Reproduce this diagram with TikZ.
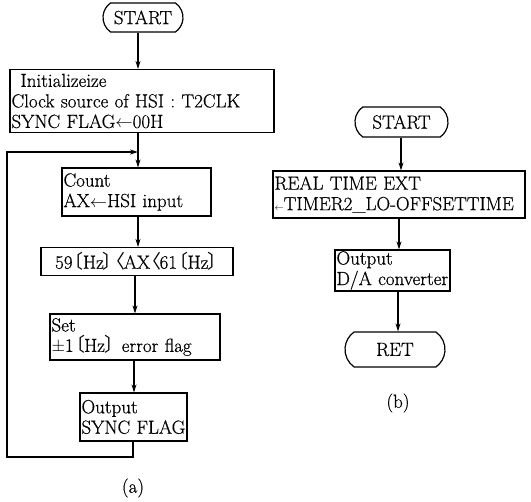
\documentclass[tikz,border=0pt]{standalone}
\usepackage{fontspec}
\setmainfont{Latin Modern Roman}[FakeBold=0.5]
\newfontfamily\cjk{Noto Sans CJK JP}
\usetikzlibrary{shapes.misc,arrows.meta}
\newcommand{\lbr}{\kern-0.4em{\cjk 〔}\kern-0.05em}
\newcommand{\rbr}{\kern-0.05em{\cjk 〕}\kern-0.4em}
\newcommand{\lang}{\kern-0.4em{\cjk 〈}\kern-0.1em}
\newcommand{\larr}{\ensuremath{\leftarrow}}
\tikzset{
  every node/.style={font=\fontsize{19}{20.5}\selectfont},
  box/.style={draw, line width=1.2pt, inner xsep=1.5pt, inner ysep=0pt, align=left},
  term/.style={draw, line width=1.2pt, rounded rectangle, rounded rectangle arc length=110, inner sep=0pt},
  flow/.style={line width=1.1pt, -{Stealth[length=8pt,width=5pt,inset=2.5pt]}},
}
\begin{document}
\begin{tikzpicture}[x=1pt,y=-1pt]
\useasboundingbox (0,0) rectangle (531,502);
% (a)
\node[term, minimum width=80pt, minimum height=29pt] (sa) at (143,17.5) {START};
\node[box, text width=261pt, minimum height=63pt] (init) at (142,101)
  {\hspace{9pt}\mbox{Initializeize}\\\mbox{Clock source of HSI : T2CLK}\\\mbox{SYNC FLAG\larr00H}};
\node[box, text width=146pt, minimum height=48pt] (count) at (136.5,192)
  {Count\\\mbox{AX\larr HSI input}};
\node[box, align=center, text width=189pt, minimum height=28pt] (range) at (137,261.5)
  {\mbox{59\lbr Hz\rbr\lang AX\lang 61\lbr Hz\rbr}};
\node[box, text width=167pt, minimum height=46pt] (set) at (135,337)
  {Set\\\mbox{$\pm$1\lbr Hz\rbr\ error flag}};
\node[box, text width=104pt, minimum height=48pt] (outa) at (133.5,417)
  {Output\\\mbox{SYNC FLAG}};
\node (la) at (133,488) {(a)};
\coordinate (ja) at (138,152);
\coordinate (lx) at (7,457);
\draw[flow] (sa.south -| ja) -- (init.north -| ja);
\draw[flow] (init.south -| ja) -- (count.north -| ja);
\draw[flow] (count.south -| ja) -- (range.north -| ja);
\coordinate (xb) at (135,0);
\draw[flow] (range.south -| xb) -- (set.north -| xb);
\coordinate (xc) at (134,0);
\draw[flow] (set.south -| xc) -- (outa.north -| xc);
\coordinate (xd) at (133,0);
\draw[flow] (outa.south -| xd) -- (xd |- lx) -- (lx) -- (lx |- ja) -- (ja);
% (b)
\node[term, minimum width=93pt, minimum height=30pt] (sb) at (401.5,122) {START};
\node[box, text width=249pt, minimum height=47pt] (rt) at (399,194.5)
  {\mbox{REAL TIME EXT}\\\mbox{{\small\larr}TIMER2\_LO-OFFSETTIME}};
\node[box, text width=112pt, minimum height=41pt] (outb) at (392.5,270.5)
  {Output\\\mbox{D/A converter}};
\node[term, minimum width=100pt, minimum height=35pt] (ret) at (395,349.5) {RET};
\node (lb) at (398,403) {(b)};
\coordinate (xe) at (401,0);
\draw[flow] (sb.south -| xe) -- (rt.north -| xe);
\coordinate (xf) at (399,0);
\draw[flow] (rt.south -| xf) -- (outb.north -| xf);
\coordinate (xg) at (398,0);
\draw[flow] (outb.south -| xg) -- (ret.north -| xg);
\end{tikzpicture}
\end{document}
